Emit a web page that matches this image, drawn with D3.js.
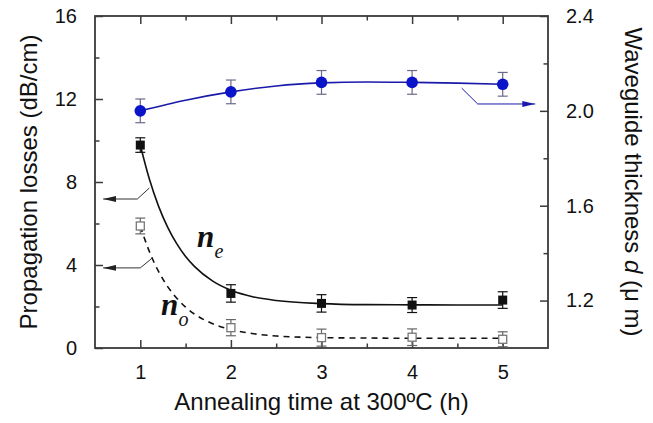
<!DOCTYPE html>
<html>
<head>
<meta charset="utf-8">
<script src="https://cdn.jsdelivr.net/npm/d3@7"></script>
<style>
  html, body { margin: 0; padding: 0; background: #fff; }
  svg { display: block; }
  text { font-family: "Liberation Sans", Arial, Helvetica, sans-serif; fill: #111; }
</style>
</head>
<body>
<svg id="chart" width="653" height="423"></svg>
<script>
// ---------- data ----------
const hours = [1, 2, 3, 4, 5];
const neLoss = [9.78, 2.63, 2.15, 2.07, 2.31];
const neErr  = [0.35, 0.42, 0.42, 0.36, 0.40];
const noLoss = [5.88, 0.98, 0.50, 0.52, 0.42];
const noErr  = [0.38, 0.39, 0.41, 0.40, 0.36];
const thickness = [2.00, 2.08, 2.12, 2.12, 2.112];
const thickErr  = [0.05, 0.05, 0.05, 0.05, 0.05];

// fitted curves
const neFitX = [1, 1.1, 1.2, 1.3, 1.4, 1.5, 1.6, 1.8, 2.0, 2.25, 2.5, 3, 3.5, 4, 4.5, 5];
const neFitY = [9.77, 8.14, 6.85, 5.84, 5.04, 4.41, 3.92, 3.22, 2.78, 2.46, 2.29, 2.14, 2.09, 2.08, 2.07, 2.07];
const noFitX = [1, 1.1, 1.2, 1.3, 1.4, 1.5, 1.6, 1.8, 2.0, 2.25, 2.5, 3, 3.5, 4, 4.5, 5];
const noFitY = [5.87, 4.65, 3.70, 2.97, 2.41, 1.97, 1.63, 1.17, 0.89, 0.69, 0.58, 0.50, 0.48, 0.47, 0.47, 0.47];
const dFitX = [1, 1.5, 2, 2.5, 3, 3.5, 4, 4.5, 5];
const dFitY = [2.00, 2.045, 2.08, 2.105, 2.118, 2.122, 2.12, 2.117, 2.112];

const xTicks = [1, 2, 3, 4, 5];
const xMinor = [1.5, 2.5, 3.5, 4.5];
const yLeftTicks = [0, 4, 8, 12, 16];
const yLeftMinor = [2, 6, 10, 14];
const yRightTicks = [1.2, 1.6, 2.0, 2.4];
const yRightMinor = [1.4, 1.8, 2.2];

// annotation arrows (data units)
const neArrow = [[1.10, 7.71], [0.967, 7.18], [0.59, 7.18]];
const noArrow = [[1.133, 4.34], [1.0, 3.86], [0.59, 3.86]];
const dArrow  = [[4.547, 2.096], [4.724, 2.029], [5.36, 2.029]];

// ---------- layout ----------
const L = 95, R = 548, T = 16, B = 348;
const svg = d3.select("#chart");

const x = d3.scaleLinear().domain([0.5, 5.5]).range([L, R]);
const yL = d3.scaleLinear().domain([0, 16]).range([B, T]);
const yR = d3.scaleLinear().domain([1.0, 2.4]).range([B, T]);

const axisColor = "#3a3a3a";
const majorLen = 8, minorLen = 4.5;

function tickAxis(g, axisGen) {
  g.call(axisGen);
  g.select(".domain").remove();
  g.selectAll(".tick line").attr("stroke", axisColor).attr("stroke-width", 1.5);
}

// bottom axis (ticks inward)
tickAxis(svg.append("g").attr("transform", `translate(0,${B})`),
  d3.axisBottom(x).tickValues(xTicks).tickSizeInner(-majorLen).tickSizeOuter(0).tickPadding(majorLen + 9).tickFormat(d3.format("d")));
tickAxis(svg.append("g").attr("transform", `translate(0,${B})`),
  d3.axisBottom(x).tickValues(xMinor).tickSizeInner(-minorLen).tickSizeOuter(0).tickFormat(""));
// top axis
tickAxis(svg.append("g").attr("transform", `translate(0,${T})`),
  d3.axisTop(x).tickValues(xTicks).tickSizeInner(-majorLen).tickSizeOuter(0).tickFormat(""));
tickAxis(svg.append("g").attr("transform", `translate(0,${T})`),
  d3.axisTop(x).tickValues(xMinor).tickSizeInner(-minorLen).tickSizeOuter(0).tickFormat(""));
// left axis
tickAxis(svg.append("g").attr("transform", `translate(${L},0)`),
  d3.axisLeft(yL).tickValues(yLeftTicks).tickSizeInner(-majorLen).tickSizeOuter(0).tickPadding(majorLen + 10).tickFormat(d3.format("d")));
tickAxis(svg.append("g").attr("transform", `translate(${L},0)`),
  d3.axisLeft(yL).tickValues(yLeftMinor).tickSizeInner(-minorLen).tickSizeOuter(0).tickFormat(""));
// right axis
tickAxis(svg.append("g").attr("transform", `translate(${R},0)`),
  d3.axisRight(yR).tickValues(yRightTicks).tickSizeInner(-majorLen).tickSizeOuter(0).tickPadding(majorLen + 10).tickFormat(d3.format(".1f")));
tickAxis(svg.append("g").attr("transform", `translate(${R},0)`),
  d3.axisRight(yR).tickValues(yRightMinor).tickSizeInner(-minorLen).tickSizeOuter(0).tickFormat(""));

svg.selectAll(".tick text")
  .style("font-family", '"Liberation Sans", Arial, sans-serif')
  .style("font-size", "20px").attr("fill", "#111");

// frame
svg.append("rect").attr("x", L).attr("y", T).attr("width", R - L).attr("height", B - T)
  .attr("fill", "none").attr("stroke", axisColor).attr("stroke-width", 1.8);

// ---------- curves ----------
const lineL = d3.line().x(d => x(d[0])).y(d => yL(d[1])).curve(d3.curveMonotoneX);
const lineR = d3.line().x(d => x(d[0])).y(d => yR(d[1])).curve(d3.curveMonotoneX);

svg.append("path").datum(neFitX.map((v, i) => [v, neFitY[i]]))
  .attr("d", lineL).attr("fill", "none").attr("stroke", "#111").attr("stroke-width", 1.6);
svg.append("path").datum(noFitX.map((v, i) => [v, noFitY[i]]))
  .attr("d", lineL).attr("fill", "none").attr("stroke", "#111").attr("stroke-width", 1.6)
  .attr("stroke-dasharray", "6,5");
svg.append("path").datum(dFitX.map((v, i) => [v, dFitY[i]]))
  .attr("d", lineR).attr("fill", "none").attr("stroke", "#1a1aaa").attr("stroke-width", 1.6);

// ---------- error bars ----------
function errorBars(vals, errs, yScale, color) {
  const g = svg.append("g").attr("stroke", color).attr("stroke-width", 1.2).attr("fill", "none");
  hours.forEach((h, i) => {
    const cx = x(h), y1 = yScale(vals[i] + errs[i]), y2 = yScale(vals[i] - errs[i]);
    g.append("line").attr("x1", cx).attr("x2", cx).attr("y1", y1).attr("y2", y2);
    g.append("line").attr("x1", cx - 5).attr("x2", cx + 5).attr("y1", y1).attr("y2", y1);
    g.append("line").attr("x1", cx - 5).attr("x2", cx + 5).attr("y1", y2).attr("y2", y2);
  });
}
errorBars(noLoss, noErr, yL, "#666");
errorBars(neLoss, neErr, yL, "#111");
errorBars(thickness, thickErr, yR, "#6a6a8a");

// ---------- markers ----------
const sq = 9, osq = 8;
svg.append("g").selectAll("rect").data(hours).join("rect")
  .attr("x", (d) => x(d) - sq / 2).attr("y", (d, i) => yL(neLoss[i]) - sq / 2)
  .attr("width", sq).attr("height", sq).attr("fill", "#111");
svg.append("g").selectAll("rect").data(hours).join("rect")
  .attr("x", (d) => x(d) - osq / 2).attr("y", (d, i) => yL(noLoss[i]) - osq / 2)
  .attr("width", osq).attr("height", osq).attr("fill", "#fff").attr("stroke", "#777").attr("stroke-width", 1.3);
svg.append("g").selectAll("circle").data(hours).join("circle")
  .attr("cx", d => x(d)).attr("cy", (d, i) => yR(thickness[i])).attr("r", 5.8)
  .attr("fill", "#0a14c8");

// ---------- arrows ----------
const defs = svg.append("defs");
function arrowMarker(id, color) {
  defs.append("marker").attr("id", id).attr("viewBox", "0 0 13 6")
    .attr("refX", 13).attr("refY", 3).attr("markerWidth", 13).attr("markerHeight", 6)
    .attr("markerUnits", "userSpaceOnUse").attr("orient", "auto")
    .append("path").attr("d", "M0,0 L13,3 L0,6 Z").attr("fill", color);
}
arrowMarker("arrK", "#222");
arrowMarker("arrB", "#1a1aaa");
svg.append("path").datum(neArrow).attr("d", d3.line().x(d => x(d[0])).y(d => yL(d[1])))
  .attr("fill", "none").attr("stroke", "#333").attr("stroke-width", 1).attr("marker-end", "url(#arrK)");
svg.append("path").datum(noArrow).attr("d", d3.line().x(d => x(d[0])).y(d => yL(d[1])))
  .attr("fill", "none").attr("stroke", "#333").attr("stroke-width", 1).attr("marker-end", "url(#arrK)");
svg.append("path").datum(dArrow).attr("d", d3.line().x(d => x(d[0])).y(d => yR(d[1])))
  .attr("fill", "none").attr("stroke", "#1a1aaa").attr("stroke-width", 1).attr("marker-end", "url(#arrB)");

// ---------- series labels ----------
function seriesLabel(px, py, sub, sx, sy) {
  svg.append("text").attr("x", px).attr("y", py)
    .style("font-family", '"Liberation Serif", "Times New Roman", serif')
    .style("font-style", "italic").style("font-weight", "bold").style("font-size", "31px")
    .text("n");
  svg.append("text").attr("x", sx).attr("y", sy)
    .style("font-family", '"Liberation Serif", "Times New Roman", serif')
    .style("font-style", "italic").style("font-size", "20px")
    .text(sub);
}
seriesLabel(197, 247, "e", 214.5, 258);
seriesLabel(161, 315, "o", 178.5, 326);

// ---------- axis titles ----------
svg.append("text").attr("x", (L + R) / 2).attr("y", 410).attr("text-anchor", "middle")
  .style("font-size", "24px").text("Annealing time at 300ºC (h)");
svg.append("text").attr("transform", `translate(37,${(T + B) / 2}) rotate(-90)`).attr("text-anchor", "middle")
  .style("font-size", "24px").text("Propagation losses (dB/cm)");
svg.append("text").attr("transform", `translate(625,${(T + B) / 2}) rotate(90)`).attr("text-anchor", "middle")
  .style("font-size", "24px")
  .call(t => {
    t.append("tspan").text("Waveguide thickness ");
    t.append("tspan").style("font-style", "italic").text("d");
    t.append("tspan").text(" (μ m)");
  });
</script>
</body>
</html>
